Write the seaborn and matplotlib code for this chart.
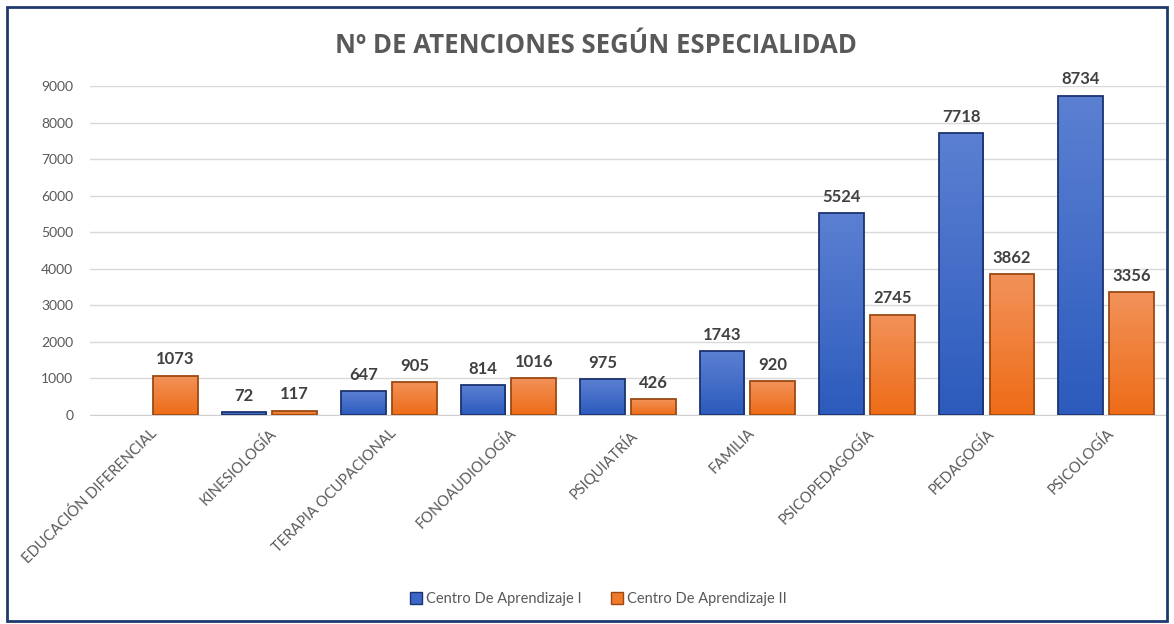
import numpy as np
import pandas as pd
import matplotlib.pyplot as plt
import matplotlib.colors as mcolors
from matplotlib.patches import Rectangle, Patch
import seaborn as sns

categorias = ["EDUCACIÓN DIFERENCIAL", "KINESIOLOGÍA", "TERAPIA OCUPACIONAL",
              "FONOAUDIOLOGÍA", "PSIQUIATRÍA", "FAMILIA", "PSICOPEDAGOGÍA",
              "PEDAGOGÍA", "PSICOLOGÍA"]
centro_1 = [np.nan, 72, 647, 814, 975, 1743, 5524, 7718, 8734]
centro_2 = [1073, 117, 905, 1016, 426, 920, 2745, 3862, 3356]
series = ["Centro De Aprendizaje I", "Centro De Aprendizaje II"]

df = pd.DataFrame({
    "especialidad": categorias * 2,
    "valor": centro_1 + centro_2,
    "centro": [series[0]] * len(categorias) + [series[1]] * len(categorias),
})

sns.set_style("white")
plt.rcParams["font.family"] = ["Lato", "DejaVu Sans"]

fig = plt.figure(figsize=(11.74, 6.24), dpi=100)
ax = fig.add_axes([0.0767, 0.335, 0.9163, 0.527])

azul = "#3d67c6"
naranja = "#f07a2a"
sns.barplot(data=df, x="especialidad", y="valor", hue="centro",
            palette=[azul, naranja], width=0.85, gap=0.12, ax=ax,
            legend=False, zorder=3)

# degradado tipo Excel en cada barra
grad = {
    azul: mcolors.LinearSegmentedColormap.from_list("a", ["#2c5bbd", "#5b80d2"]),
    naranja: mcolors.LinearSegmentedColormap.from_list("n", ["#ee6c17", "#f2925a"]),
}
bordes = {azul: "#1b3370", naranja: "#9c4a12"}
for cont, col in zip(ax.containers, [azul, naranja]):
    for p in cont.patches:
        h = p.get_height()
        if not np.isfinite(h) or h <= 0:
            continue
        x0, w = p.get_x(), p.get_width()
        img = ax.imshow(np.linspace(0, 1, 64).reshape(-1, 1), cmap=grad[col],
                        extent=[x0, x0 + w, 0, h], origin="lower",
                        aspect="auto", zorder=3)
        img.set_clip_path(p)
        p.set_facecolor("none")
        p.set_edgecolor(bordes[col])
        p.set_linewidth(1.3)
        p.set_zorder(4)
    etiquetas = ["" if not np.isfinite(v) else f"{int(v)}" for v in cont.datavalues]
    ax.bar_label(cont, labels=etiquetas, padding=6, fontsize=12,
                 fontweight="bold", color="#404040")

ax.set_xlim(-0.5, len(categorias) - 0.5)
ax.set_ylim(0, 9000)
ax.set_yticks(range(0, 9001, 1000))
ax.yaxis.grid(True, color="#d9d9d9", linewidth=1, zorder=0)
ax.set_axisbelow(True)
for s in ["top", "right", "left"]:
    ax.spines[s].set_visible(False)
ax.spines["bottom"].set_color("#d0d0d0")
ax.tick_params(axis="both", length=0, colors="#595959", labelsize=10)
ax.tick_params(axis="y", pad=12)
ax.set_xticks(range(len(categorias)))
ax.set_xticklabels(categorias, rotation=45, ha="right", rotation_mode="anchor",
                   fontsize=10.5)
ax.tick_params(axis="x", pad=8)
ax.set_xlabel("")
ax.set_ylabel("")

fig.text(0.508, 0.927, "Nº DE ATENCIONES SEGÚN ESPECIALIDAD", ha="center",
         va="center", fontsize=18.5, fontweight="bold", color="#595959",
         family=["Open Sans", "DejaVu Sans"])

handles = [Patch(facecolor="#3d67c6", edgecolor="#1b3370"),
           Patch(facecolor="#f07a2a", edgecolor="#9c4a12")]
fig.legend(handles, series, loc="center", bbox_to_anchor=(0.51, 0.04), ncol=2,
           frameon=False, fontsize=10.5, handlelength=0.8, handleheight=0.8,
           handletextpad=0.3, columnspacing=2.0, labelcolor="#595959")

fig.patches.append(Rectangle((0.006, 0.005), 0.988, 0.984, transform=fig.transFigure,
                             fill=False, edgecolor="#1f3a6e", linewidth=2))

fig.savefig("out.png", dpi=100)
